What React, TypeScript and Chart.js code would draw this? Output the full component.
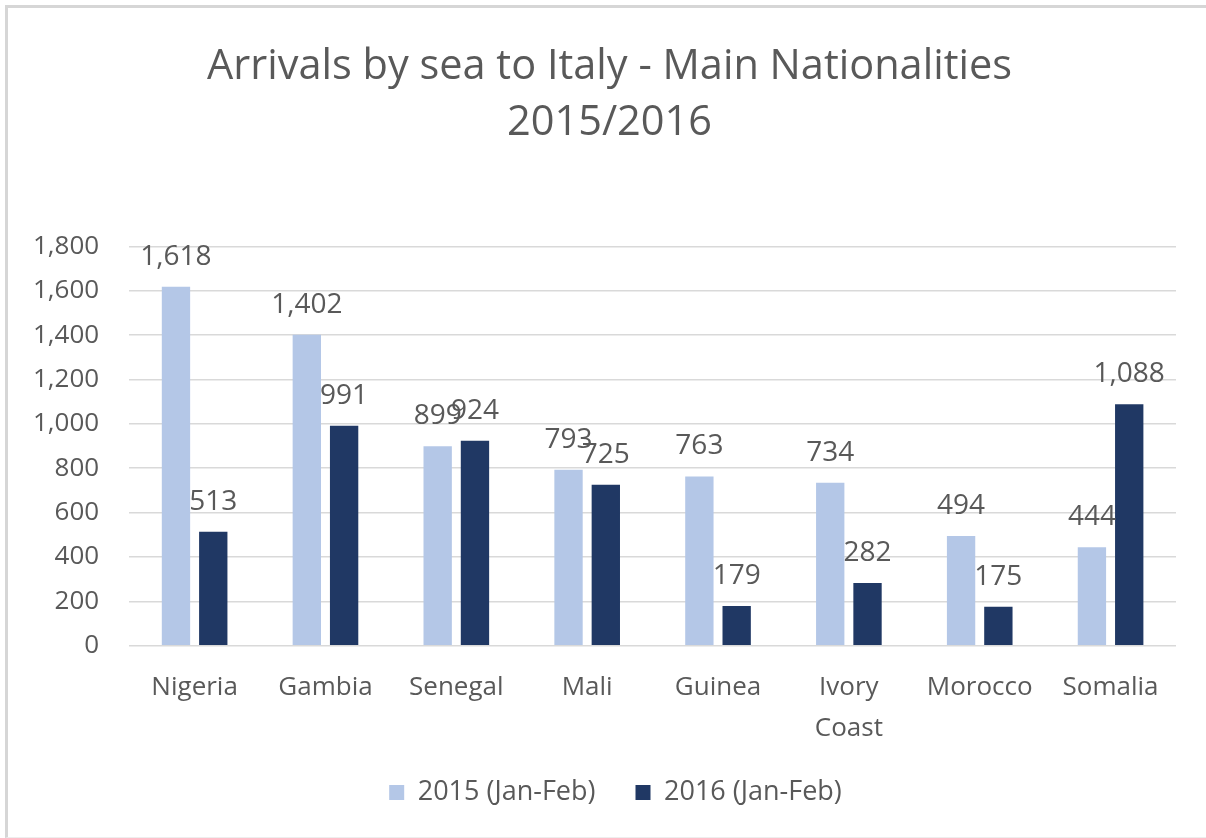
import React, { useEffect, useRef } from "react";
import { Chart, registerables } from "chart.js";

Chart.register(...registerables);

const categories: (string | string[])[] = [
  "Nigeria",
  "Gambia",
  "Senegal",
  "Mali",
  "Guinea",
  ["Ivory", "Coast"],
  "Morocco",
  "Somalia",
];
const values2015 = [1618, 1402, 899, 793, 763, 734, 494, 444];
const values2016 = [513, 991, 924, 725, 179, 282, 175, 1088];
const seriesNames = ["2015 (Jan-Feb)", "2016 (Jan-Feb)"];
const titleLines = ["Arrivals by sea to Italy - Main Nationalities", "2015/2016"];

const FONT = "'Open Sans', 'Noto Sans', sans-serif";
const TEXT = "#595959";

const valueLabels = {
  id: "valueLabels",
  afterDatasetsDraw(chart: any) {
    const ctx = chart.ctx;
    ctx.save();
    ctx.font = `28px ${FONT}`;
    ctx.fillStyle = TEXT;
    ctx.textAlign = "center";
    ctx.textBaseline = "alphabetic";
    chart.data.datasets.forEach((ds: any, i: number) => {
      const meta = chart.getDatasetMeta(i);
      meta.data.forEach((el: any, j: number) => {
        const v = ds.data[j] as number;
        ctx.fillText(v.toLocaleString("en-US"), el.x, el.y - 22);
      });
    });
    ctx.restore();
  },
};

// The original chart is centred on a slightly wider frame than the crop,
// so the title and legend sit a little right of the canvas centre.
const shiftBlocks = {
  id: "shiftBlocks",
  afterLayout(chart: any) {
    if (chart.titleBlock) {
      chart.titleBlock.left += 20;
      chart.titleBlock.right += 20;
    }
    if (chart.legend) {
      chart.legend.left += 26;
      chart.legend.right += 26;
    }
  },
};

export default function App() {
  const ref = useRef<HTMLCanvasElement | null>(null);
  useEffect(() => {
    document.body.style.margin = "0";
    const canvas = ref.current;
    if (!canvas) return;
    const chart = new Chart(canvas, {
      type: "bar",
      data: {
        labels: categories as any,
        datasets: [
          {
            label: seriesNames[0],
            data: values2015,
            backgroundColor: "#B4C7E7",
            barPercentage: 0.76,
            categoryPercentage: 0.57,
          },
          {
            label: seriesNames[1],
            data: values2016,
            backgroundColor: "#203864",
            barPercentage: 0.76,
            categoryPercentage: 0.57,
          },
        ],
      },
      options: {
        responsive: false,
        animation: false,
        layout: { padding: { top: 10, left: 3, right: 30, bottom: 22 } },
        scales: {
          x: {
            grid: { display: false, drawTicks: false },
            border: { display: false },
            ticks: {
              color: TEXT,
              font: { family: FONT, size: 26, lineHeight: 1.58 },
              padding: 21,
              maxRotation: 0,
              autoSkip: false,
            },
          },
          y: {
            min: 0,
            max: 1800,
            ticks: {
              stepSize: 200,
              color: TEXT,
              font: { family: FONT, size: 26 },
              padding: 30,
              callback: (v: any) => Number(v).toLocaleString("en-US"),
            },
            grid: { color: "#D9D9D9", lineWidth: 1.5, drawTicks: false },
            border: { display: false },
          },
        },
        plugins: {
          title: {
            display: true,
            text: titleLines,
            color: TEXT,
            font: { family: FONT, size: 41.5, weight: "normal", lineHeight: 1.33 },
            padding: { top: 30, bottom: 96 },
          },
          legend: {
            position: "bottom",
            title: { display: true, text: "", font: { size: 1 }, padding: { top: -32, bottom: 0 } },
            labels: {
              color: TEXT,
              font: { family: FONT, size: 27 },
              boxWidth: 15,
              boxHeight: 15,
              padding: 40,
            },
          },
          tooltip: { enabled: false },
        },
      },
      plugins: [valueLabels, shiftBlocks],
    });
    return () => chart.destroy();
  }, []);

  return (
    <div style={{ position: "absolute", left: 0, top: 0, width: 1206, height: 838, background: "#fff" }}>
      <div
        style={{
          position: "absolute",
          left: 5,
          top: 5,
          width: 1201,
          height: 829,
          borderTop: "3px solid #D6D6D6",
          borderLeft: "3px solid #D6D6D6",
          borderBottom: "1px solid #EEEEEE",
        }}
      />
      <canvas ref={ref} width={1206} height={838} style={{ position: "absolute", left: 0, top: 0 }} />
    </div>
  );
}
